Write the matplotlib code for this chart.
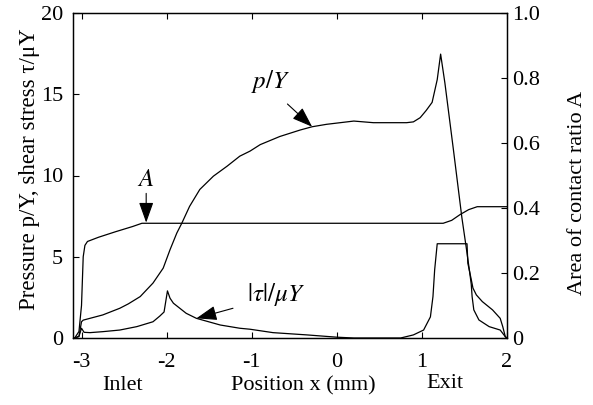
import matplotlib
matplotlib.use("Agg")
import matplotlib.pyplot as plt

plt.rcParams['font.family'] = ['Liberation Serif', 'DejaVu Serif']
plt.rcParams['mathtext.fontset'] = 'stix'
plt.rcParams['axes.unicode_minus'] = False

# p/Y (left axis)
p_x = [-3.08, -3.03, -3.0, -2.98, -2.75, -2.55, -2.45, -2.31, -2.16, -2.04, -1.96, -1.88,
       -1.82, -1.73, -1.61, -1.45, -1.29, -1.14, -1.02, -0.9, -0.67, -0.43, -0.29, -0.12,
       0.12, 0.2, 0.43, 0.82, 0.9, 0.98, 1.05, 1.12, 1.18, 1.22, 1.27, 1.37, 1.47, 1.52,
       1.56, 1.58, 1.59, 1.61, 1.67, 1.79, 1.92, 1.98, 2.0]
p_y = [0, 0.1, 1.0, 1.1, 1.42, 1.83, 2.1, 2.55, 3.38, 4.3, 5.43, 6.46,
       7.08, 8.1, 9.14, 9.96, 10.57, 11.19, 11.5, 11.9, 12.4, 12.8, 13.0, 13.15,
       13.3, 13.35, 13.25, 13.25, 13.3, 13.56, 14.0, 14.5, 15.9, 17.47, 15.7, 11.6, 7.4, 5.6,
       4.1, 3.3, 2.55, 1.73, 1.11, 0.7, 0.49, 0.08, 0]

# |tau|/muY (left axis)
t_x = [-3.08, -3.03, -3.0, -2.97, -2.9, -2.75, -2.55, -2.35, -2.16, -2.08, -2.03, -1.99,
       -1.96, -1.92, -1.77, -1.65, -1.37, -1.14, -1.02, -0.75, -0.35, 0.0, 0.2, 0.75,
       0.9, 1.02, 1.1, 1.13, 1.15, 1.18, 1.53, 1.54, 1.58, 1.60, 1.64, 1.71, 1.83,
       1.92, 1.95, 1.98, 2.0]
t_y = [0, 0.1, 0.6, 0.35, 0.33, 0.39, 0.49, 0.7, 1.0, 1.35, 1.6, 2.9,
       2.45, 2.14, 1.52, 1.21, 0.8, 0.6, 0.54, 0.33, 0.19, 0.05, 0, 0,
       0.19, 0.49, 1.3, 2.55, 4.2, 5.8, 5.8, 4.6, 3.6, 3.07, 2.65, 2.24, 1.73,
       1.21, 0.7, 0.08, 0]

# A (right axis)
a_x = [-3.08, -3.03, -3.0, -2.98, -2.96, -2.93, -2.8, -2.6, -2.4, -2.29, 1.25, 1.35,
       1.45, 1.55, 1.65, 2.0]
a_y = [0, 0.02, 0.1, 0.25, 0.285, 0.297, 0.31, 0.327, 0.343, 0.353, 0.353, 0.362,
       0.38, 0.395, 0.404, 0.404]

x_ticks = [-3, -2, -1, 0, 1, 2]
x_ticklabels = ['-3', '-2', '-1', '0', '1', '2']
yl_ticks = [0, 5, 10, 15, 20]
yr_ticks = [0, 0.2, 0.4, 0.6, 0.8, 1.0]
yr_ticklabels = ['0', '0.2', '0.4', '0.6', '0.8', '1.0']

W, H = 593, 405
fig = plt.figure(figsize=(W / 100, H / 100), dpi=100)
ax = fig.add_axes([73 / W, 1 - 338 / H, (507 - 73) / W, (338 - 13) / H])
ax2 = ax.twinx()

lw = 0.9
ax.plot(p_x, p_y, color='black', lw=lw)
ax.plot(t_x, t_y, color='black', lw=lw)
ax2.plot(a_x, a_y, color='black', lw=lw)

ax.set_xlim(-3.1, 2.0)
ax.set_ylim(0, 20)
ax2.set_ylim(0, 1.0)

fs = 16
ax.set_xticks(x_ticks)
ax.set_xticklabels(x_ticklabels, fontsize=fs)
ax.set_yticks(yl_ticks)
ax.set_yticklabels([str(v) for v in yl_ticks], fontsize=fs)
ax2.set_yticks(yr_ticks)
ax2.set_yticklabels(yr_ticklabels, fontsize=fs)

ax.tick_params(axis='x', direction='in', top=True, length=4, width=0.8, pad=11)
ax.tick_params(axis='y', direction='in', left=True, right=False, length=4, width=0.8, pad=7)
ax2.tick_params(axis='y', direction='in', length=4, width=0.8, pad=4)
for a in (ax, ax2):
    for s in a.spines.values():
        s.set_linewidth(0.9)

fig.text(30 / W, 1 - 169 / H, 'Pressure p/Y, shear stress τ/μY', fontsize=16.5,
         rotation=90, ha='center', va='center')
fig.text(577 / W, 1 - 193 / H, 'Area of contact ratio A', fontsize=fs,
         rotation=90, ha='center', va='center')
fig.text(303 / W, 1 - 386 / H, 'Position x (mm)', fontsize=fs, ha='center', va='center')
fig.text(123 / W, 1 - 385 / H, 'Inlet', fontsize=fs, ha='center', va='center')
fig.text(445 / W, 1 - 383 / H, 'Exit', fontsize=fs, ha='center', va='center')

arrow = dict(arrowstyle='-|>,head_length=0.7,head_width=0.25', color='black', lw=0.8,
             mutation_scale=18, shrinkA=0, shrinkB=0)
ax.annotate('', xy=(-0.29, 13.0), xytext=(-0.58, 14.4), arrowprops=arrow)
ax.text(-0.78, 15.8, '$p/Y$', fontsize=fs + 2, ha='center', va='center')
ax.annotate('', xy=(-2.24, 7.1), xytext=(-2.24, 8.9), arrowprops=arrow)
ax.text(-2.24, 9.75, '$A$', fontsize=fs + 2, ha='center', va='center')
ax.annotate('', xy=(-1.65, 1.21), xytext=(-1.22, 1.83), arrowprops=arrow)
ax.text(-0.71, 2.65, r'$|\tau|/\mu Y$', fontsize=fs + 2, ha='center', va='center')

fig.savefig('out.png', dpi=100)
